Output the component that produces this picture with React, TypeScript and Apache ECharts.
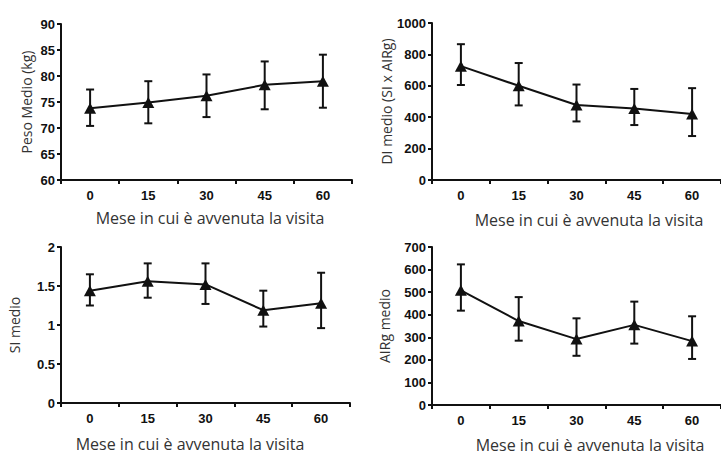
import React, { useEffect, useRef } from "react";
import * as echarts from "echarts";

const months = ["0", "15", "30", "45", "60"];

const pesoMean = [73.8, 74.9, 76.2, 78.3, 79.0];
const pesoLow = [70.4, 70.9, 72.1, 73.6, 73.9];
const pesoHigh = [77.4, 79.0, 80.3, 82.8, 84.1];

const diMean = [725, 600, 478, 456, 420];
const diLow = [605, 475, 373, 350, 280];
const diHigh = [865, 745, 608, 580, 585];

const siMean = [1.44, 1.56, 1.52, 1.19, 1.28];
const siLow = [1.25, 1.35, 1.27, 0.98, 0.96];
const siHigh = [1.65, 1.79, 1.79, 1.44, 1.67];

const airgMean = [508, 372, 292, 355, 283];
const airgLow = [418, 285, 218, 272, 204];
const airgHigh = [623, 478, 384, 458, 393];

const xTitle = "Mese in cui è avvenuta la visita";

const panels = [
  { name: "Peso Medio (kg)", mean: pesoMean, low: pesoLow, high: pesoHigh, min: 60, max: 90, interval: 5 },
  { name: "DI medio (SI x AIRg)", mean: diMean, low: diLow, high: diHigh, min: 0, max: 1000, interval: 200 },
  { name: "SI medio", mean: siMean, low: siLow, high: siHigh, min: 0, max: 2, interval: 0.5 },
  { name: "AIRg medio", mean: airgMean, low: airgLow, high: airgHigh, min: 0, max: 700, interval: 100 },
];

const grids = [
  { left: 61, top: 24, width: 291, height: 156 },
  { left: 432, top: 23, width: 290, height: 157 },
  { left: 61, top: 247, width: 289, height: 156 },
  { left: 432, top: 247, width: 290, height: 158 },
];
const nameGaps = [28, 31, 40, 41];
const xTitlePos = [
  { x: 210, y: 218 },
  { x: 589, y: 220 },
  { x: 190, y: 444 },
  { x: 590, y: 445 },
];

const INK = "#111";

export default function App() {
  const ref = useRef<HTMLDivElement>(null);
  useEffect(() => {
    if (!ref.current) return;
    const chart = echarts.init(ref.current, null, { renderer: "svg" });
    const xAxis: any[] = [];
    const yAxis: any[] = [];
    const series: any[] = [];
    panels.forEach((p, i) => {
      xAxis.push({
        type: "category",
        gridIndex: i,
        data: months,
        boundaryGap: true,
        axisLine: { lineStyle: { color: INK, width: 2 } },
        axisTick: { show: true, length: 4, lineStyle: { color: INK, width: 2 } },
        axisLabel: { color: INK, fontWeight: "bold", fontSize: 13, fontFamily: "Liberation Sans, Arial", margin: 9 },
        splitLine: { show: false },
      });
      yAxis.push({
        type: "value",
        gridIndex: i,
        min: p.min,
        max: p.max,
        interval: p.interval,
        name: p.name,
        nameLocation: "middle",
        nameGap: nameGaps[i],
        nameTextStyle: { color: "#333", fontSize: 14, fontFamily: "Open Sans" },
        axisLine: { show: true, lineStyle: { color: INK, width: 2 } },
        axisTick: { show: true, length: 4, lineStyle: { color: INK, width: 2 } },
        axisLabel: {
          color: INK,
          fontWeight: "bold",
          fontSize: 13,
          fontFamily: "Liberation Sans, Arial",
          margin: 6,
          formatter: (v: number) => String(v),
        },
        splitLine: { show: false },
      });
      series.push({
        type: "custom",
        xAxisIndex: i,
        yAxisIndex: i,
        data: p.mean.map((_, k) => [k, p.low[k], p.high[k]]),
        encode: { x: 0, y: [1, 2] },
        z: 2,
        renderItem: (params: any, api: any) => {
          const idx = api.value(0);
          const lo = api.coord([idx, api.value(1)]);
          const hi = api.coord([idx, api.value(2)]);
          const hw = 4;
          const style = { stroke: INK, lineWidth: 2 };
          return {
            type: "group",
            children: [
              { type: "line", shape: { x1: lo[0], y1: lo[1], x2: hi[0], y2: hi[1] }, style },
              { type: "line", shape: { x1: hi[0] - hw, y1: hi[1], x2: hi[0] + hw, y2: hi[1] }, style },
              { type: "line", shape: { x1: lo[0] - hw, y1: lo[1], x2: lo[0] + hw, y2: lo[1] }, style },
            ],
          };
        },
      });
      series.push({
        type: "line",
        xAxisIndex: i,
        yAxisIndex: i,
        data: p.mean,
        symbol: "triangle",
        symbolSize: [12, 11],
        z: 3,
        itemStyle: { color: INK },
        lineStyle: { color: INK, width: 2 },
      });
    });
    chart.setOption({
      animation: false,
      backgroundColor: "#fff",
      grid: grids,
      xAxis,
      yAxis,
      series,
      graphic: xTitlePos.map((pos) => ({
        type: "text",
        x: pos.x,
        y: pos.y,
        style: {
          text: xTitle,
          fill: "#333",
          fontSize: 16,
          fontFamily: "Open Sans",
          textAlign: "center",
          textVerticalAlign: "middle",
        },
      })),
    });
    return () => chart.dispose();
  }, []);
  return (
    <div
      ref={ref}
      style={{ position: "fixed", left: 0, top: 0, width: 721, height: 457, background: "#fff" }}
    />
  );
}
